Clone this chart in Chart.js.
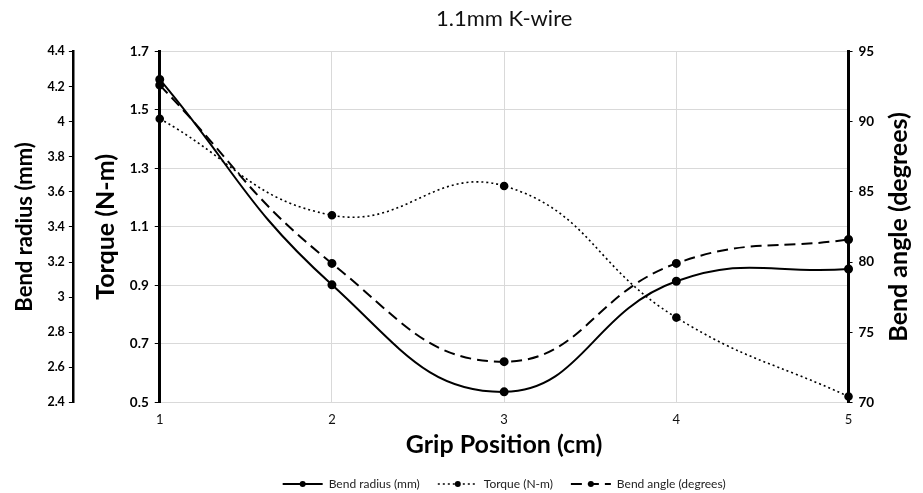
<!DOCTYPE html>
<html>
<head>
<meta charset="utf-8">
<script src="https://cdn.jsdelivr.net/npm/chart.js@4.4.1/dist/chart.umd.min.js"></script>
<style>
    html, body { margin: 0; padding: 0; background: #fff; }
    #wrap { width: 923px; height: 493px; position: relative; }
</style>
</head>
<body>
<div id="wrap"><canvas id="kwire-chart"></canvas></div>
<script>
// Data
const gripPositions = ['1', '2', '3', '4', '5'];
const bendRadius = [4.24, 3.07, 2.46, 3.09, 3.16];
const torque = [1.47, 1.14, 1.24, 0.79, 0.52];
const bendAngle = [92.6, 79.9, 72.9, 79.9, 81.6];

const FONT = 'Lato, "Open Sans", sans-serif';
const GRID = '#d9d9d9';
const LEGEND_LINE = 40;

// Right-hand axis title reads bottom-to-top, draw it ourselves
const rightTitlePlugin = {
    id: 'rightTitle',
    afterDraw(chart) {
        const scale = chart.scales.yAngle;
        const ctx = chart.ctx;
        ctx.save();
        ctx.translate(scale.right - 20, (chart.chartArea.top + chart.chartArea.bottom) / 2);
        ctx.rotate(-Math.PI / 2);
        ctx.font = 'bold 25px ' + FONT;
        ctx.fillStyle = '#000';
        ctx.textAlign = 'center';
        ctx.textBaseline = 'middle';
        ctx.fillText('Bend angle (degrees)', 0, 0);
        ctx.restore();
    }
};

// Put a marker dot in the middle of each legend line
const legendDotPlugin = {
    id: 'legendDots',
    afterDraw(chart) {
        const legend = chart.legend;
        if (!legend || !legend.legendHitBoxes) return;
        const ctx = chart.ctx;
        legend.legendHitBoxes.forEach((box) => {
            ctx.save();
            ctx.fillStyle = '#000';
            ctx.beginPath();
            ctx.arc(box.left + LEGEND_LINE / 2, box.top + box.height / 2, 3, 0, Math.PI * 2);
            ctx.fill();
            ctx.restore();
        });
    }
};

const chart = new Chart(document.getElementById('kwire-chart'), {
    type: 'line',
    data: {
        labels: gripPositions,
        datasets: [{
            label: 'Bend radius (mm)',
            data: bendRadius,
            yAxisID: 'yRadius',
            borderColor: '#000',
            backgroundColor: '#000',
            borderWidth: 2,
            pointRadius: 3.5,
            tension: 0.45,
        }, {
            label: 'Torque (N-m)',
            data: torque,
            yAxisID: 'yTorque',
            borderColor: '#000',
            backgroundColor: '#000',
            borderWidth: 1.6,
            borderDash: [2, 3],
            pointRadius: 3.5,
            tension: 0.45,
        }, {
            label: 'Bend angle (degrees)',
            data: bendAngle,
            yAxisID: 'yAngle',
            borderColor: '#000',
            backgroundColor: '#000',
            borderWidth: 2,
            borderDash: [11, 6],
            pointRadius: 3.5,
            tension: 0.45,
        }]
    },
    options: {
        responsive: true,
        maintainAspectRatio: false,
        animation: false,
        layout: { padding: { left: 4, right: 4, top: 4, bottom: 1 } },
        plugins: {
            title: {
                display: true,
                text: '1.1mm K-wire',
                fullSize: false,
                color: '#111',
                font: { family: FONT, size: 22, weight: 'normal' },
                padding: { top: 2, bottom: 19 },
            },
            legend: {
                display: true,
                position: 'bottom',
                fullSize: false,
                maxHeight: 32,
                labels: {
                    usePointStyle: true,
                    pointStyle: 'line',
                    pointStyleWidth: LEGEND_LINE,
                    color: '#222',
                    padding: 18,
                    font: { family: FONT, size: 12 },
                    generateLabels: (c) => {
                        const items = Chart.defaults.plugins.legend.labels.generateLabels(c);
                        items.forEach((item) => {
                            const ds = c.data.datasets[item.datasetIndex];
                            item.lineDash = ds.borderDash || [];
                            item.lineWidth = ds.borderWidth;
                            item.strokeStyle = '#000';
                        });
                        return items;
                    },
                },
            },
            tooltip: { enabled: false },
        },
        scales: {
            x: {
                grid: { color: GRID, drawTicks: false },
                border: { color: GRID },
                ticks: { color: '#111', padding: 10, font: { family: FONT, size: 13 } },
                title: {
                    display: true,
                    text: 'Grip Position (cm)',
                    color: '#000',
                    font: { family: FONT, size: 25, weight: 'bold' },
                    padding: { top: -8, bottom: 0 },
                },
            },
            yTorque: {
                position: 'left',
                min: 0.5,
                max: 1.7,
                grid: { color: GRID, tickColor: '#000', tickLength: 5 },
                border: { color: '#000', width: 3 },
                ticks: {
                    stepSize: 0.2,
                    padding: 6,
                    color: '#000',
                    font: { family: FONT, size: 13.5, weight: 'bold' },
                    callback: (v) => v.toFixed(1),
                },
                title: {
                    display: true,
                    text: 'Torque (N-m)',
                    color: '#000',
                    font: { family: FONT, size: 25, weight: 'bold' },
                    padding: { top: 18, bottom: 3 },
                },
            },
            yRadius: {
                position: 'left',
                min: 2.4,
                max: 4.4,
                grid: { drawOnChartArea: false, tickColor: '#000', tickLength: 4 },
                border: { color: '#000', width: 2.5 },
                ticks: {
                    stepSize: 0.2,
                    padding: 4,
                    color: '#000',
                    font: { family: FONT, size: 12.5, weight: 'bold' },
                    callback: (v) => Number(v.toFixed(1)).toString(),
                },
                title: {
                    display: true,
                    text: 'Bend radius (mm)',
                    color: '#000',
                    font: { family: FONT, size: 22, weight: 'bold' },
                    padding: { top: 8, bottom: 5 },
                },
            },
            yAngle: {
                position: 'right',
                min: 70,
                max: 95,
                grid: { drawOnChartArea: false, tickColor: '#000', tickLength: 4 },
                border: { color: '#000', width: 3 },
                ticks: {
                    stepSize: 5,
                    padding: 6,
                    color: '#000',
                    font: { family: FONT, size: 13.5, weight: 'bold' },
                },
                title: {
                    display: true,
                    text: 'Bend angle (degrees)',
                    color: 'rgba(0,0,0,0)',
                    font: { family: FONT, size: 24, weight: 'bold' },
                    padding: { top: 4, bottom: 6 },
                },
            },
        },
    },
    plugins: [rightTitlePlugin, legendDotPlugin],
});
</script>
</body>
</html>
